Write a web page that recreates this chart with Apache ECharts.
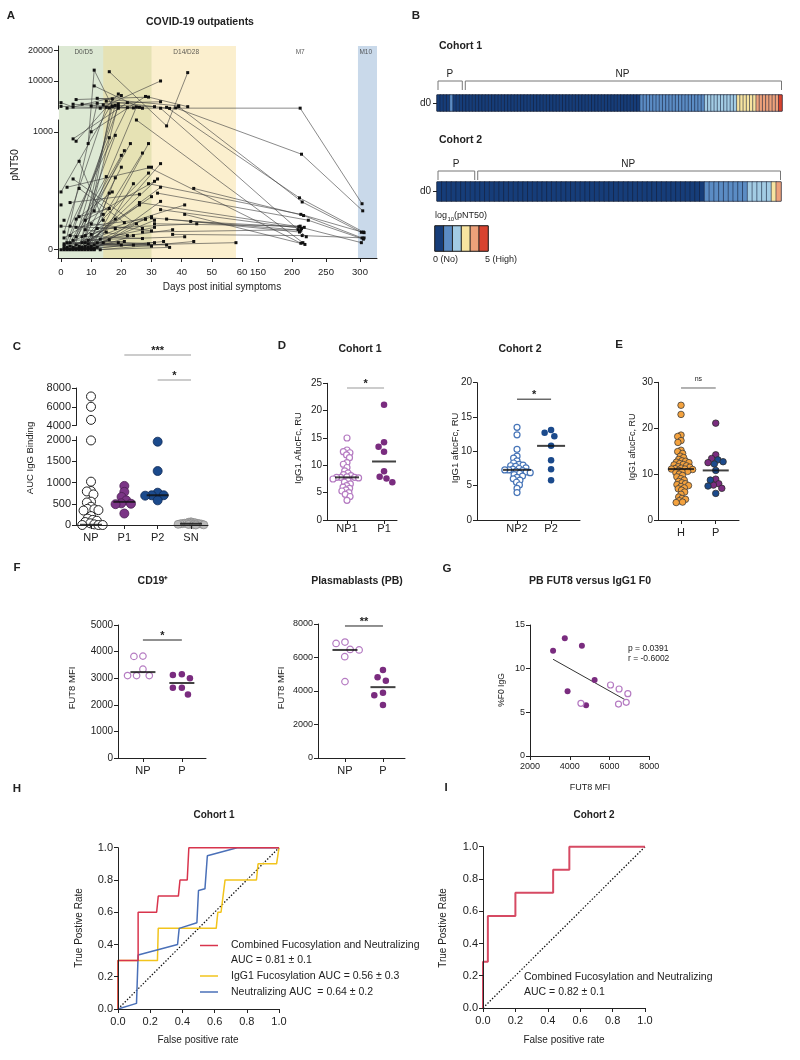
<!DOCTYPE html>
<html><head><meta charset="utf-8"><title>Figure</title>
<script src="https://cdn.jsdelivr.net/npm/echarts@6/dist/echarts.min.js"></script>
<style>html,body{margin:0;padding:0;background:#fff;}#chart{width:800px;height:1060px;}</style>
</head><body><div id="chart"></div>
<script>
// ======================= DATA =======================
// Panel A: each subject = list of [day post symptoms, pNT50]
const aSubjects = [
  [[2,1230],[212,1220],[303,390]],
  [[38,1300],[214,810],[304,330]],
  [[35,1500],[211,440],[305,150]],
  [[39,1700],[215,405],[302,148]],
  [[29,560],[213,300],[306,145]],
  [[44,520],[217,290],[303,100]],
  [[32,480],[224,250],[305,90]],
  [[26,400],[210,195],[302,60]],
  [[33,340],[214,180]],
  [[43,240],[218,190]],
  [[30,270],[213,165]],
  [[35,260],[211,150]],
  [[33,1200],[221,110]],
  [[25,1100],[216,60]],
  [[29,700],[213,55]],
  [[41,300],[219,45]],
  [[31,220],[212,200]],
  [[37,130],[215,120],[306,100]],
  [[27,150],[209,170]],
  [[1,10],[16,950]],
  [[2,20],[19,1800]],
  [[3,30],[20,800]],
  [[4,5],[29,650]],
  [[5,40],[30,280]],
  [[6,15],[33,530]],
  [[7,20],[28,260]],
  [[8,60],[17,4200]],
  [[9,0],[24,120]],
  [[10,30],[31,250]],
  [[3,0],[16,85]],
  [[5,10],[19,60]],
  [[7,0],[34,70]],
  [[9,80],[29,50]],
  [[11,40],[31,60]],
  [[1,150],[15,1500]],
  [[0,490],[16,1300]],
  [[2,530],[30,700]],
  [[4,940],[22,3000]],
  [[5,920],[19,5800]],
  [[6,750],[14,250]],
  [[9,900],[11,13500],[17,1800]],
  [[10,1000],[28,5000]],
  [[11,8400],[26,1500]],
  [[16,13000],[35,1050],[42,12700]],
  [[13,1200],[33,10000]],
  [[0,3000],[4,1600],[20,5300]],
  [[5,4000],[29,4800],[42,1700]],
  [[7,2500],[33,3300]],
  [[12,4400],[39,1950]],
  [[0,200],[18,180]],
  [[1,100],[14,300]],
  [[3,120],[27,95]],
  [[6,280],[16,350]],
  [[8,170],[22,120]],
  [[10,220],[30,160]],
  [[12,60],[20,40]],
  [[2,60],[35,40]],
  [[4,80],[41,110]],
  [[6,30],[58,60]],
  [[13,0],[44,70]],
  [[9,20],[18,610]],
  [[11,330],[21,840]],
  [[5,260],[17,490]],
  [[3,400],[26,470]],
  [[8,0],[33,730]],
  [[1,0],[12,2800]],
  [[4,0],[18,970]],
  [[7,110],[25,1600]],
  [[2,0],[24,40]],
  [[9,50],[30,30]],
  [[10,0],[36,20]],
  [[0,0],[15,150]],
  [[6,0],[17,1900]],
  [[8,120],[19,2600]],
  [[3,60],[14,60]],
  [[11,10],[25,220]],
  [[1,50],[21,70]],
  [[5,190],[28,260]],
  [[7,60],[31,190]],
  [[0,1800],[19,1200]],
  [[4,2500],[24,1300]],
  [[10,1900],[27,1200]],
  [[14,2300],[31,1700]],
  [[15,3500],[36,1150]],
  [[2,10],[15,620]],
  [[3,5],[23,900]],
  [[4,20],[26,380]],
  [[5,0],[30,450]],
  [[6,10],[20,700]],
  [[7,5],[32,600]],
  [[8,30],[27,820]],
  [[9,10],[16,480]],
  [[10,15],[29,900]],
  [[11,5],[24,560]],
  [[12,20],[33,410]],
  [[1,30],[18,260]],
  [[3,200],[22,1400]],
  [[5,110],[18,2100]],
  [[8,250],[31,580]],
  [[10,130],[41,380]],
  [[12,180],[45,220]],
  [[13,90],[37,170]],
  [[6,520],[21,230]],
  [[4,600],[27,180]],
  [[2,5]],[[4,10]],[[6,5]],[[8,10]],[[10,5]],[[11,0]],[[0,380]],[[1,250]]
];
const aPhases = [
  {name:'D0/D5',  start:-0.7, end:30},
  {name:'D14/D28', start:14,  end:58},
  {name:'M10',    start:297,  end:325}
];
const aPhaseLabels = [['D0/D5',7.5],['D14/D28',41.5],['M7',212],['M10',308.5]];
const aXTicksLeft = [0,10,20,30,40,50,60];
const aXTicksRight = [150,200,250,300];
const aYTicksTop = [10000,20000];
const aYTicksBottom = [0,1000];

// Panel B: log10(pNT50) class per subject at d0 (0..5)
const bCohort1 = [
  0,0,0,0,1,0,0,0,
  0,0,0,0,0,0,0,0,0,0, 0,0,0,0,0,0,0,0,0,0, 0,0,0,0,0,0,0,0,0,0,
  0,0,0,0,0,0,0,0,0,0, 0,0,0,0,0,0,0,0,0,0, 0,0,0,0,0,
  1,1,1,1,1,1,1,1,1,1, 1,1,1,1,1,1,1,1,1,1,
  2,2,2,2,2,2,2,2,2,2,
  3,3,3,3,3,3,
  4,4,4,4,4,4,4,
  5
];
const bCohort1P = 8;
const bCohort2 = [
  0,0,0,0,0,0,0,0,
  0,0,0,0,0,0,0,0,0,0, 0,0,0,0,0,0,0,0,0,0, 0,0,0,0,0,0,0,0,0,0,
  0,0,0,0,0,0,0,0,0,0, 0,0,0,0,0,0,0,0,
  1,1,1,1,1,1,1,1,1,
  2,2,2,2,2,
  3,
  4
];
const bCohort2P = 8;
const bLegendValues = [0,1,2,3,4,5];

// Panel C: AUC IgG binding
const cGroups = ['NP','P1','P2','SN'];
const cNP = [7100,6000,4600,1990,1020,800,790,720,550,530,430,380,370,350,340,210,150,120,100,70,40,15,0,0,0];
const cP1 = [920,780,660,580,510,500,490,270];
const cP2 = [1960,1270,760,700,700,690,580];
const cSN = [75,66,58,52,46,41,37,33,30,27,24,20,16,12,8,4,0];
const cMedians = [5,545,700,30];
const cYTicksTop = [4000,6000,8000];
const cYTicksBottom = [0,500,1000,1500,2000];

// Panel D: IgG1 afucosylated Fc
const dGroups1 = ['NP1','P1'];
const dGroups2 = ['NP2','P2'];
const d1NP = [15.0,12.8,12.5,12.3,11.9,11.4,10.5,10.2,9.6,9.0,8.6,8.3,8.1,7.9,7.8,7.8,7.8,7.7,7.5,7.2,6.9,6.6,6.3,6.0,5.8,5.5,5.3,5.0,4.7,4.3,3.6];
const p1Fuc = [21.1,14.2,13.4,12.5,8.9,7.9,7.6,6.9];
const d1Medians = [7.8,10.7];
const d2NP = [13.5,12.4,10.3,9.3,9.0,8.6,8.3,8.1,8.0,7.9,7.8,7.6,7.5,7.4,7.3,7.3,7.2,7.1,7.0,6.9,6.8,6.6,6.4,6.2,6.0,5.8,5.5,5.1,4.6,4.0];
const p2Fuc = [13.1,12.7,12.2,10.8,8.7,7.4,5.8];
const d2Medians = [7.3,10.8];

// Panel E
const eGroups = ['H','P'];
const eH = [25.0,23.0,18.5,18.2,17.3,16.9,15.2,14.9,14.5,13.9,13.6,13.2,12.9,12.8,12.6,12.5,12.3,12.1,12.0,11.8,11.6,11.5,11.3,11.2,11.1,11.1,11.0,10.8,10.6,10.5,10.3,10.0,9.7,9.4,9.0,8.7,8.4,8.1,7.9,7.7,7.5,7.3,7.0,6.8,6.5,6.1,5.6,5.0,4.7,4.5,4.2,3.9,3.8];
const eMedians = [11.1,10.8];

// Panel F
const fGroups = ['NP','P'];
const f1NP = [3830,3820,3340,3100,3100,3100];
const f1P = [3150,3000,3120,2640,2640,2390];
const f1Medians = [3230,2820];
const pbNP = [6840,6920,6450,6480,6050,4560];
const pbP = [5250,4820,4610,3890,3750,3160];
const f2Medians = [6450,4230];

// Panel G: %F0 IgG paired with PB FUT8 MFI
const gNPF0 = [6.15,7.14,5.95,7.67,8.13,6.03];
const gPF0 = [8.70,5.80,12.63,7.40,13.47,12.06];
const gStats = ['p = 0.0391','r = -0.6002'];

// Panels H, I: ROC curves [FPR, TPR]
const hCombined = [[0,0],[0,0.3],[0.125,0.3],[0.125,0.6],[0.24,0.6],[0.25,0.7],[0.375,0.7],[0.385,0.8],[0.43,0.8],[0.44,1],[1,1]];
const hFucosylation = [[0,0],[0,0.3],[0.245,0.3],[0.25,0.5],[0.61,0.5],[0.62,0.6],[0.64,0.6],[0.665,0.8],[0.86,0.8],[0.87,0.9],[0.985,0.9],[1,1]];
const hNeutralizing = [[0,0],[0.115,0.035],[0.125,0.335],[0.37,0.4],[0.38,0.5],[0.49,0.535],[0.5,0.735],[0.54,0.745],[0.555,0.95],[0.74,1],[1,1]];
const iCombined = [[0,0],[0,0.286],[0.03,0.286],[0.03,0.571],[0.2,0.571],[0.2,0.714],[0.433,0.714],[0.433,0.857],[0.533,0.857],[0.533,1],[1,1]];
const rocChance = [[0,0],[1,1]];
const rocTicks = [0,0.2,0.4,0.6,0.8,1];
const hLegend = [['Combined Fucosylation and Neutralizing','AUC = 0.81 \u00b1 0.1'],['IgG1 Fucosylation AUC = 0.56 \u00b1 0.3'],['Neutralizing AUC  = 0.64 \u00b1 0.2']];
const iLegend = ['Combined Fucosylation and Neutralizing','AUC = 0.82 \u00b1 0.1'];

// ======================= STYLE / BUILD =======================
const FONT = '"Liberation Sans", Arial, Helvetica, sans-serif';
const INK = '#222';
const aPhaseColors = ['rgba(142,182,112,0.30)','rgba(246,215,132,0.40)','#c9d9ea'];
const bPalette = ['#163d79','#5b8cc4','#a3cce4','#f8e4a0','#eda17a','#d8432f'];
const PURPLE = '#7a2c7f', PURPLE_L = '#b57bc2', BLUE = '#1b4a8c', BLUE_L = '#4775b8', ORANGE = '#f4a23e';
const RED = '#d8344d', GOLD = '#f2c41c', LBLUE = '#4a70b8';

const grids = [], xAxes = [], yAxes = [], series = [], G = [];

function valAxis(min, max, o) {
  o = o || {};
  const ax = {
    type: 'value', min, max, show: o.show !== false, z: 10,
    axisLine: {show: true, onZero: false, lineStyle: {color: INK, width: 1}},
    axisTick: {show: !!o.ticks, length: o.tickLen || 4, lineStyle: {color: INK, width: 1}},
    axisLabel: {show: !!o.ticks, fontSize: o.fs || 10, color: INK, fontFamily: FONT,
      margin: o.margin == null ? 5 : o.margin, formatter: o.fmt || (v => String(v))},
    splitLine: {show: false}
  };
  if (o.ticks) { ax.axisTick.customValues = o.ticks; ax.axisLabel.customValues = o.ticks; }
  return ax;
}
function panel(l, t, w, h, xa, ya, extraGrid) {
  const gi = grids.length;
  grids.push(Object.assign({left: l, top: t, width: w, height: h, containLabel: false, outerBoundsMode: 'none', show: false}, extraGrid || {}));
  xa.gridIndex = gi; ya.gridIndex = gi;
  xAxes.push(xa); yAxes.push(ya);
  return gi;
}
function T(x, y, text, o) {
  o = o || {};
  G.push({type: 'text', x, y, rotation: o.rot || 0, silent: true, z: 100,
    style: {text, fontSize: o.fs || 10, fontWeight: o.bold ? 'bold' : 'normal', fontFamily: FONT,
      fill: o.color || INK, align: o.align || 'center', verticalAlign: 'middle'}});
}
function Ln(x1, y1, x2, y2, c, w) {
  G.push({type: 'line', silent: true, z: 100, shape: {x1, y1, x2, y2}, style: {stroke: c, lineWidth: w || 1}});
}
function swarm(pys, d) {
  const order = pys.map((y, i) => i).sort((a, b) => pys[a] - pys[b]);
  const placed = [], out = new Array(pys.length).fill(0);
  for (const i of order) {
    const y = pys[i];
    const near = placed.filter(p => Math.abs(p.y - y) < d);
    const cands = [0];
    near.forEach(p => { const dx = Math.sqrt(d * d - (p.y - y) * (p.y - y)); cands.push(p.x + dx, p.x - dx); });
    cands.sort((a, b) => (Math.abs(a) - Math.abs(b)) || (a - b));
    let best = 0;
    for (const c of cands) {
      if (near.every(p => (p.x - c) * (p.x - c) + (p.y - y) * (p.y - y) >= d * d - 1e-6)) { best = c; break; }
    }
    placed.push({x: best, y}); out[i] = best;
  }
  return out;
}
function swarmPts(vals, pos, pyFn, xScale, d) {
  const offs = swarm(vals.map(pyFn), d);
  return vals.map((v, i) => [pos + offs[i] / xScale, v]);
}
function dots(gi, pts, st) {
  series.push({type: 'scatter', xAxisIndex: gi, yAxisIndex: gi, data: pts, symbol: 'circle', symbolSize: st.size,
    itemStyle: {color: st.fill, borderColor: st.stroke || st.fill, borderWidth: st.bw || 0, opacity: 1},
    clip: false, silent: true, animation: false, z: 3});
}
function medianBars(gi, meds, w) {
  series.push({type: 'scatter', xAxisIndex: gi, yAxisIndex: gi, data: meds.map((m, i) => [i + 1, m]),
    symbol: 'rect', symbolSize: [w, 2], itemStyle: {color: '#111'}, clip: false, silent: true, animation: false, z: 5});
}
function gridScale(gi) {
  const g = grids[gi], xa = xAxes[gi], ya = yAxes[gi];
  return {x: g.width / (xa.max - xa.min), y: g.height / (ya.max - ya.min)};
}

// ---------- Panel A (broken axes: pixel-continuous lines like the original) ----------
const A_L = 58, A_T = 46, A_W = 319, A_H = 212;
function aX(d) { return d <= 60 ? (d + 1) * 184 / 61 : 200 + (d - 150) * 119 / 175; }
function aY(v) { return v <= 1100 ? (v + 70) * 138 / 1170 : 149 + (v - 950) * 63 / 20350; }
const aData = panel(A_L, A_T, A_W, A_H, valAxis(0, A_W, {show: false}), valAxis(0, A_H, {show: false}));
panel(58, 46, 184, 63, valAxis(-1, 60, {show: false}), valAxis(950, 21300, {ticks: aYTicksTop, fs: 9, margin: 5}));
panel(58, 120, 184, 138, valAxis(-1, 60, {ticks: aXTicksLeft, fs: 9.5, margin: 9}), valAxis(-70, 1100, {ticks: aYTicksBottom, fs: 9, margin: 5}));
panel(258, 120, 119, 138, valAxis(150, 325, {ticks: aXTicksRight, fs: 9.5, margin: 9}), valAxis(-70, 1100, {show: false}));

series.push({type: 'custom', xAxisIndex: aData, yAxisIndex: aData, silent: true, animation: false, z: 1,
  data: aPhases.map(p => [aX(p.start), aX(p.end)]),
  renderItem: (params, api) => {
    const p0 = api.coord([api.value(0), 0]);
    const p1 = api.coord([api.value(1), A_H]);
    return {type: 'rect', shape: {x: p0[0], y: p1[1], width: p1[0] - p0[0], height: p0[1] - p1[1]},
      style: {fill: aPhaseColors[params.dataIndex]}};
  }});
series.push({type: 'scatter', xAxisIndex: aData, yAxisIndex: aData, symbolSize: 0, silent: true, animation: false, z: 2,
  data: aPhaseLabels.map(l => ({name: l[0], value: [aX(l[1]), A_H - 6]})),
  label: {show: true, position: 'inside', formatter: '{b}', fontSize: 6.5, color: '#333', fontFamily: FONT}});
aSubjects.forEach(s => {
  series.push({type: 'line', xAxisIndex: aData, yAxisIndex: aData, data: s.map(p => [aX(p[0]), aY(p[1])]),
    symbol: 'rect', symbolSize: 3, showSymbol: true, showAllSymbol: true, silent: true, animation: false, z: 3,
    itemStyle: {color: '#111'}, lineStyle: {color: '#3a3a3a', width: 0.6}});
});

// ---------- Panel B heatmaps ----------
function heatPanel(l, t, w, h, vals, showY) {
  const gi = panel(l, t, w, h,
    {type: 'category', data: vals.map((v, i) => i), show: false},
    {type: 'category', data: ['d0'], show: showY,
      axisLine: {show: false}, axisTick: {show: true, alignWithLabel: true, length: 4, lineStyle: {color: INK}},
      axisLabel: {fontSize: 10, color: INK, margin: 6, fontFamily: FONT}},
    {show: true, borderColor: '#555', borderWidth: 1, backgroundColor: 'transparent'});
  series.push({type: 'heatmap', xAxisIndex: gi, yAxisIndex: gi, data: vals.map((v, i) => [i, 0, v]),
    itemStyle: {borderColor: 'rgba(20,30,55,0.9)', borderWidth: 0.6}, silent: true, animation: false,
    emphasis: {disabled: true}});
  return {gi, si: series.length - 1};
}
const b1 = heatPanel(437, 95, 345, 16, bCohort1, true);
const b2 = heatPanel(437, 182, 344, 19, bCohort2, true);
const bL = heatPanel(435, 226, 53, 25, bLegendValues, false);
series[bL.si].itemStyle = {borderColor: '#222', borderWidth: 1};

// ---------- Panel C ----------
const cT = panel(76, 388, 132, 37.5, valAxis(0.55, 4.51, {show: false}), valAxis(4000, 8000, {ticks: cYTicksTop, fs: 11, margin: 5}));
const cB = panel(76, 436.6, 132, 88.4, valAxis(0.55, 4.51, {ticks: [1, 2, 3, 4], fs: 11, margin: 7, fmt: v => cGroups[Math.round(v) - 1]}),
  valAxis(0, 2080, {ticks: cYTicksBottom, fs: 11, margin: 5}));
const cXS = 132 / (4.51 - 0.55);
const cPx = v => v > 2080 ? 388 + (8000 - v) * 37.5 / 4000 : 436.6 + (2080 - v) * 88.4 / 2080;
[
  {vals: cNP, pos: 1, d: 4.2, st: {size: 9, fill: '#fff', stroke: '#222', bw: 1}},
  {vals: cP1, pos: 2, d: 5.8, st: {size: 9, fill: '#7b3586', stroke: '#4b1f53', bw: 0.8}},
  {vals: cP2, pos: 3, d: 6.5, st: {size: 9, fill: BLUE, stroke: '#0f2a55', bw: 0.8}},
  {vals: cSN, pos: 4, d: 2.2, st: {size: 8, fill: '#b9b9b9', stroke: '#8c8c8c', bw: 0.8}}
].forEach(g => {
  const pts = swarmPts(g.vals, g.pos, cPx, cXS, g.d);
  const top = pts.filter(p => p[1] > 2080), bot = pts.filter(p => p[1] <= 2080);
  if (top.length) dots(cT, top, g.st);
  dots(cB, bot, g.st);
});
medianBars(cB, cMedians, 22);

// ---------- Panel D ----------
const d1 = panel(327, 383.3, 70, 136.7, valAxis(0.46, 2.35, {ticks: [1, 2], fs: 11, margin: 3, fmt: v => dGroups1[Math.round(v) - 1]}),
  valAxis(0, 25, {ticks: [0, 5, 10, 15, 20, 25], fs: 10, margin: 5}));
const d2 = panel(477, 382.7, 103, 137.3, valAxis(-0.176, 2.85, {ticks: [1, 2], fs: 11, margin: 3, fmt: v => dGroups2[Math.round(v) - 1]}),
  valAxis(0, 20, {ticks: [0, 5, 10, 15, 20], fs: 10, margin: 5}));
const eG = panel(658, 382.3, 81, 137.7, valAxis(0.337, 2.67, {ticks: [1, 2], fs: 11, margin: 7, fmt: v => eGroups[Math.round(v) - 1]}),
  valAxis(0, 30, {ticks: [0, 10, 20, 30], fs: 10, margin: 5}));
function simpleSwarm(gi, vals, pos, d) {
  const s = gridScale(gi);
  return swarmPts(vals, pos, v => -v * s.y, s.x, d);
}
dots(d1, simpleSwarm(d1, d1NP, 1, 4), {size: 6, fill: '#fff', stroke: PURPLE_L, bw: 1.2});
dots(d1, simpleSwarm(d1, p1Fuc, 2, 7), {size: 6.5, fill: PURPLE});
medianBars(d1, d1Medians, 24);
dots(d2, simpleSwarm(d2, d2NP, 1, 4), {size: 6, fill: '#fff', stroke: BLUE_L, bw: 1.2});
dots(d2, simpleSwarm(d2, p2Fuc, 2, 7), {size: 6.5, fill: BLUE});
medianBars(d2, d2Medians, 28);
// Panel E
dots(eG, simpleSwarm(eG, eH, 1, 3.6), {size: 6.5, fill: ORANGE, stroke: '#3d3d3d', bw: 0.8});
(function () {
  const all = p1Fuc.concat(p2Fuc);
  const pts = simpleSwarm(eG, all, 2, 5.5);
  dots(eG, pts.slice(0, p1Fuc.length), {size: 6.5, fill: PURPLE, stroke: '#2d2d2d', bw: 0.8});
  dots(eG, pts.slice(p1Fuc.length), {size: 6.5, fill: BLUE, stroke: '#2d2d2d', bw: 0.8});
})();
medianBars(eG, eMedians, 26);

// ---------- Panel F ----------
const f1 = panel(118, 625, 88, 133, valAxis(0.36, 2.62, {ticks: [1, 2], fs: 11, margin: 7, fmt: v => fGroups[Math.round(v) - 1]}),
  valAxis(0, 5000, {ticks: [0, 1000, 2000, 3000, 4000, 5000], fs: 10, margin: 5}));
const f2 = panel(318, 624, 87, 134, valAxis(0.29, 2.58, {ticks: [1, 2], fs: 11, margin: 7, fmt: v => fGroups[Math.round(v) - 1]}),
  valAxis(0, 8000, {ticks: [0, 2000, 4000, 6000, 8000], fs: 9, margin: 5}));
dots(f1, simpleSwarm(f1, f1NP, 1, 9), {size: 6.5, fill: '#fff', stroke: PURPLE_L, bw: 1.2});
dots(f1, simpleSwarm(f1, f1P, 2, 9), {size: 6.5, fill: PURPLE});
medianBars(f1, f1Medians, 25);
dots(f2, simpleSwarm(f2, pbNP, 1, 9), {size: 6.5, fill: '#fff', stroke: PURPLE_L, bw: 1.2});
dots(f2, simpleSwarm(f2, pbP, 2, 9), {size: 6.5, fill: PURPLE});
medianBars(f2, f2Medians, 25);

// ---------- Panel G ----------
const gG = panel(530, 625, 119.3, 131, valAxis(2000, 8000, {ticks: [2000, 4000, 6000, 8000], fs: 9, margin: 6}),
  valAxis(0, 15, {ticks: [0, 5, 10, 15], fs: 9, margin: 5}));
(function () {
  const xs = pbP.concat(pbNP), ys = gPF0.concat(gNPF0);
  const n = xs.length, mx = xs.reduce((a, b) => a + b) / n, my = ys.reduce((a, b) => a + b) / n;
  let sxy = 0, sxx = 0;
  xs.forEach((x, i) => { sxy += (x - mx) * (ys[i] - my); sxx += (x - mx) * (x - mx); });
  const b = sxy / sxx, a = my - b * mx;
  const x0 = Math.min.apply(null, xs), x1 = Math.max.apply(null, xs);
  series.push({type: 'line', xAxisIndex: gG, yAxisIndex: gG, data: [[x0, a + b * x0], [x1, a + b * x1]], symbol: 'none',
    lineStyle: {color: '#333', width: 1}, silent: true, animation: false, z: 2});
})();
dots(gG, pbP.map((x, i) => [x, gPF0[i]]), {size: 6, fill: PURPLE});
dots(gG, pbNP.map((x, i) => [x, gNPF0[i]]), {size: 6, fill: '#fff', stroke: PURPLE_L, bw: 1.2});

// ---------- Panels H, I ----------
const rocFmt = v => v.toFixed(1);
const hG = panel(118, 847.7, 161, 161.3, valAxis(0, 1, {ticks: rocTicks, fs: 11, margin: 7, fmt: rocFmt}), valAxis(0, 1, {ticks: rocTicks, fs: 11, margin: 5, fmt: rocFmt}));
const iG = panel(483, 846.7, 162, 161.3, valAxis(0, 1, {ticks: rocTicks, fs: 11, margin: 7, fmt: rocFmt}), valAxis(0, 1, {ticks: rocTicks, fs: 11, margin: 5, fmt: rocFmt}));
function rocLine(gi, data, color, w, type, z) {
  series.push({type: 'line', xAxisIndex: gi, yAxisIndex: gi, data, symbol: 'none', clip: false, silent: true, animation: false, z: z || 3,
    lineStyle: {color, width: w, type: type || 'solid'}});
}
rocLine(hG, rocChance, '#111', 1.3, [1.4, 1.8], 2);
rocLine(hG, hFucosylation, GOLD, 1.5);
rocLine(hG, hNeutralizing, LBLUE, 1.5);
rocLine(hG, hCombined, RED, 1.5, 'solid', 4);
rocLine(iG, rocChance, '#111', 1.3, [1.4, 1.8], 2);
rocLine(iG, iCombined, '#d64a63', 2);

// ---------- static texts ----------
[['A', 11, 16], ['B', 416, 16], ['C', 17, 347], ['D', 282, 346], ['E', 619, 345], ['F', 17, 568], ['G', 447, 569], ['H', 17, 789], ['I', 446, 788]]
  .forEach(p => T(p[1], p[2], p[0], {fs: 11.5, bold: true}));
T(200, 22, 'COVID-19 outpatients', {fs: 10.5, bold: true});
T(439, 46, 'Cohort 1', {fs: 10.5, bold: true, align: 'left'});
T(439, 140, 'Cohort 2', {fs: 10.5, bold: true, align: 'left'});
T(360, 349, 'Cohort 1', {fs: 10.5, bold: true});
T(520, 349, 'Cohort 2', {fs: 10.5, bold: true});
T(153, 581, 'CD19\u207a', {fs: 10.5, bold: true});
T(357, 581, 'Plasmablasts (PB)', {fs: 10.5, bold: true});
T(590, 581, 'PB FUT8 versus IgG1 F0', {fs: 10.5, bold: true});
T(214, 815, 'Cohort 1', {fs: 10, bold: true});
T(594, 815, 'Cohort 2', {fs: 10, bold: true});
const ROT = Math.PI / 2;
T(15, 165, 'pNT50', {fs: 10.5, rot: ROT});
T(222, 287, 'Days post initial symptoms', {fs: 10});
T(30, 458, 'AUC IgG Binding', {fs: 9.5, rot: ROT});
T(298, 448, 'IgG1 AfucFc, RU', {fs: 9.5, rot: ROT});
T(455, 448, 'IgG1 afucFc, RU', {fs: 9.5, rot: ROT});
T(633, 447, 'IgG1 afucFc, RU', {fs: 9, rot: ROT});
T(72, 688, 'FUT8 MFI', {fs: 9.5, rot: ROT});
T(281, 688, 'FUT8 MFI', {fs: 9.5, rot: ROT});
T(502, 690, '%F0 IgG', {fs: 8.5, rot: ROT});
T(590, 788, 'FUT8 MFI', {fs: 9});
T(79, 928, 'True Postive Rate', {fs: 10, rot: ROT});
T(198, 1040, 'False positive rate', {fs: 10});
T(443, 928, 'True Postive Rate', {fs: 10, rot: ROT});
T(564, 1040, 'False positive rate', {fs: 10});
// B legend
T(435, 216, 'log', {fs: 9, align: 'left'});
T(447.5, 219, '10', {fs: 6, align: 'left'});
T(454, 216, '(pNT50)', {fs: 9, align: 'left'});
T(433, 260, '0 (No)', {fs: 9, align: 'left'});
T(485, 260, '5 (High)', {fs: 9, align: 'left'});
// G stats
T(628, 649, gStats[0], {fs: 8.5, align: 'left'});
T(628, 659, gStats[1], {fs: 8.5, align: 'left'});
// H legend
Ln(200, 945.5, 218, 945.5, RED, 1.5);
T(231, 945.5, hLegend[0][0], {fs: 10.5, align: 'left'});
T(231, 960.5, hLegend[0][1], {fs: 10.5, align: 'left'});
Ln(200, 976, 218, 976, GOLD, 1.5);
T(231, 976, hLegend[1][0], {fs: 10.5, align: 'left'});
Ln(200, 992, 218, 992, LBLUE, 1.5);
T(231, 992, hLegend[2][0], {fs: 10.5, align: 'left'});
// I legend
T(524, 977, iLegend[0], {fs: 10.5, align: 'left'});
T(524, 992, iLegend[1], {fs: 10.5, align: 'left'});

const option = {
  animation: false,
  backgroundColor: '#fff',
  textStyle: {fontFamily: FONT},
  grid: grids, xAxis: xAxes, yAxis: yAxes, series,
  visualMap: [{type: 'piecewise', show: false, dimension: 2, seriesIndex: [b1.si, b2.si, bL.si],
    pieces: bPalette.map((c, i) => ({value: i, color: c}))}]
};
const chart = echarts.init(document.getElementById('chart'), null, {renderer: 'canvas', width: 800, height: 1060});
chart.setOption(option);

// ---------- annotations positioned through the axes ----------
function px(gi, x, y) { return chart.convertToPixel({gridIndex: gi}, [x, y]); }
[[b1, bCohort1, bCohort1P, 14], [b2, bCohort2, bCohort2P, 11]].forEach(([b, arr, nP, up]) => {
  const c0 = px(b.gi, 0, 0), c1 = px(b.gi, 1, 0);
  const cw = c1[0] - c0[0], left = c0[0] - cw / 2;
  const rowTop = grids[b.gi].top, topY = rowTop - up, legY = topY + 9;
  const pR = left + nP * cw, end = left + arr.length * cw;
  const br = (x1, x2) => G.push({type: 'polyline', silent: true, z: 100,
    shape: {points: [[x1, legY], [x1, topY], [x2, topY], [x2, legY]]}, style: {stroke: '#777', lineWidth: 1, fill: null}});
  br(left + 1, pR - 0.5); br(pR + 2.5, end - 0.5);
  T((left + pR) / 2, topY - 7, 'P', {fs: 10});
  T((pR + end) / 2, topY - 7, 'NP', {fs: 10});
});
const sigs = [
  {g: cT, x1: 2, x2: 4, y: 11520, t: '***', c: '#999'},
  {g: cT, x1: 3, x2: 4, y: 8853, t: '*', c: '#999'},
  {g: d1, x1: 1, x2: 2, y: 24.14, t: '*', c: '#999'},
  {g: d2, x1: 1, x2: 2, y: 17.6, t: '*', c: '#222'},
  {g: eG, x1: 1, x2: 2, y: 28.76, t: 'ns', c: '#666', fs: 7, dy: 8.5, bold: false},
  {g: f1, x1: 1, x2: 2, y: 4436, t: '*', c: '#222'},
  {g: f2, x1: 1, x2: 2, y: 7881, t: '**', c: '#222'}
];
sigs.forEach(s => {
  const a = px(s.g, s.x1, s.y), b = px(s.g, s.x2, s.y);
  Ln(a[0], a[1], b[0], b[1], s.c, 1);
  T((a[0] + b[0]) / 2, a[1] - (s.dy || 4.5), s.t, {fs: s.fs || 11, bold: s.bold !== false});
});
chart.setOption({graphic: {elements: G}});
</script></body></html>
